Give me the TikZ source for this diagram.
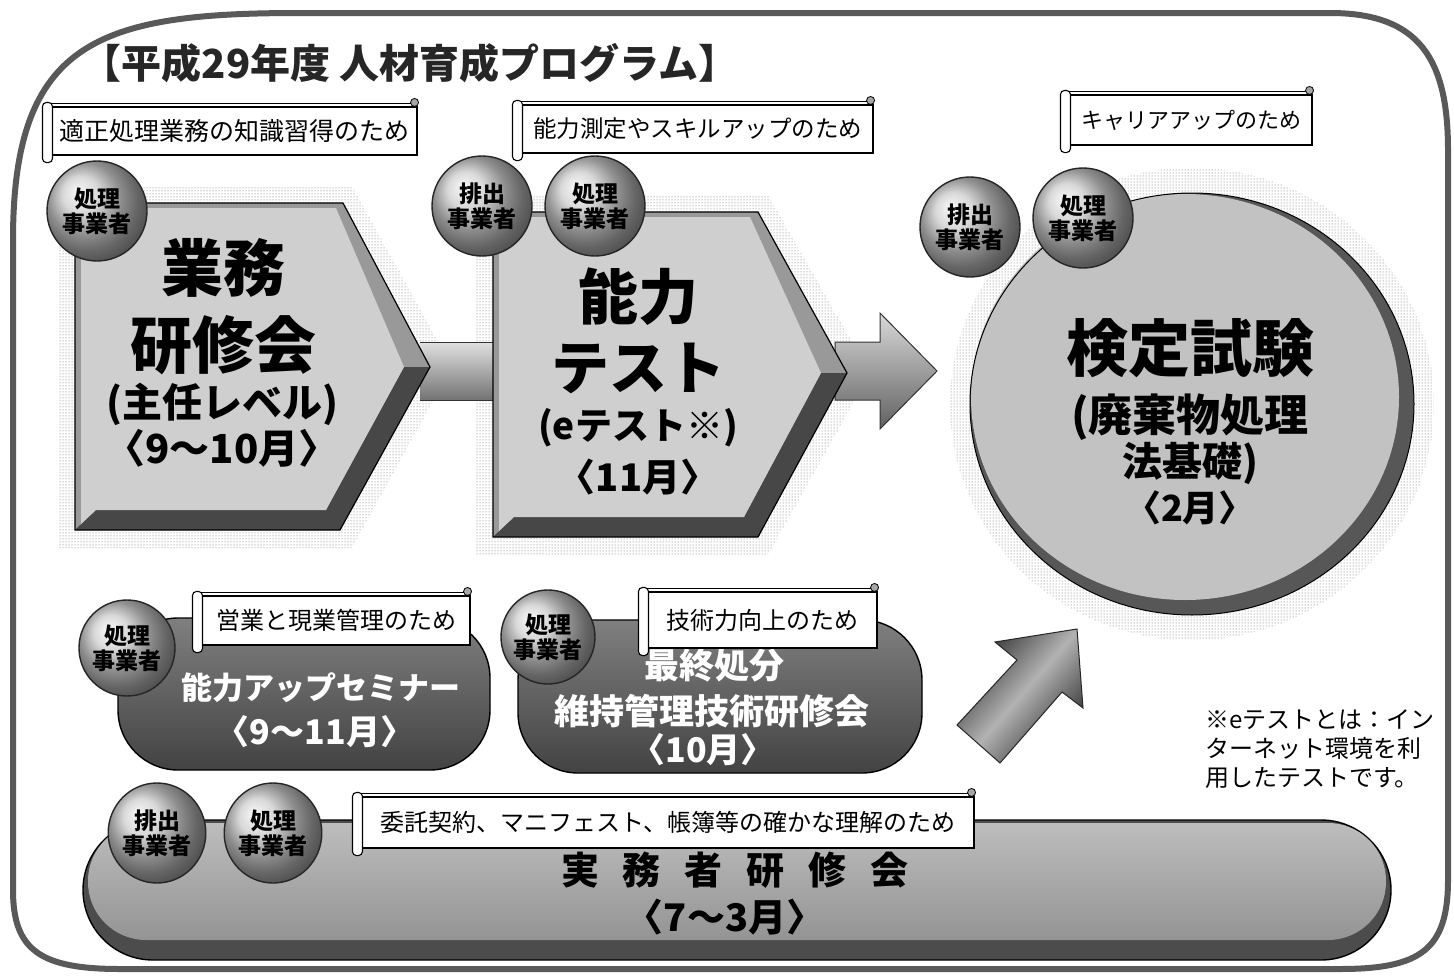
\documentclass[tikz,border=0pt]{standalone}
\usepackage{fontspec}
\setmainfont{Noto Sans CJK JP}
\usetikzlibrary{shapes.geometric,patterns}
\tikzset{
  fs/.style={font=\fontsize{#1}{#1}\selectfont},
  bfs/.style={font=\fontsize{#1}{#1}\selectfont\bfseries},
  badge/.style={circle, minimum size=100pt, inner sep=0pt, shading=ball, ball color=black!20,
    draw=black!85, line width=1.4pt, align=center, font=\fontsize{23}{25}\selectfont\bfseries},
  banner/.style={rectangle, draw=black, line width=1.1pt, fill=white, inner sep=0pt, font=\fontsize{25}{25}\selectfont},
  roll/.style={draw=black, line width=1.1pt, fill=white, rounded corners=4pt},
  curl/.style={draw=black, line width=0.8pt, fill=black!35},
  halo/.style={pattern=dots, pattern color=black!60},
  pill/.style={rectangle, draw=black, line width=1.4pt, rounded corners=60pt, top color=black!50, bottom color=black!74},
  wtext/.style={text=white, inner sep=0pt},
  btext/.style={text=black, inner sep=0pt},
  hexface/.style={fill=black!19},
  hexlow/.style={fill=black!72},
  hexout/.style={fill=black!40},
  hexline/.style={draw=black, line width=1.2pt},
}
\newcommand\scrollends[1]{%
  \draw[roll] ([xshift=-9pt,yshift=4pt]#1.north west) rectangle ([xshift=1pt,yshift=-7pt]#1.south west);
  \draw[line width=0.6pt] ([yshift=3pt]#1.north west) -- ([xshift=-6pt,yshift=3pt]#1.north east);
  \draw[curl] ([xshift=-3pt,yshift=4pt]#1.north east) circle (4pt);
}
\begin{document}
\begin{tikzpicture}[x=1pt,y=-1pt]
\useasboundingbox (0,0) rectangle (1454,977);
\fill[white] (0,0) rectangle (1454,977);

% outer frame
\draw[black!65, line width=6pt] (13,240) .. controls (13,40) and (100,13) .. (300,13) -- (1330,13)
  .. controls (1420,13) and (1448,60) .. (1448,150) -- (1448,880)
  .. controls (1448,950) and (1420,969) .. (1340,969) -- (120,969)
  .. controls (40,969) and (13,950) .. (13,890) -- cycle;

% title
\node[bfs=40, text=black!85, inner sep=0pt] (title) at (410,63) {【平成29年度 人材育成プログラム】};

% halos
\fill[halo] (58,186) -- (352,186) -- (452,367) -- (352,548) -- (58,548) -- cycle;
\fill[halo] (476,195) -- (768,195) -- (870,373) -- (768,555) -- (476,555) -- cycle;
\fill[halo] (1192,404) ellipse (242pt and 236pt);

% shaft between hexagons
\shade[top color=black!12, bottom color=black!55] (420,342) rectangle (496,400);
\draw[black!80, line width=1pt] (420,342) -- (496,342) (420,400) -- (496,400);

% arrow to the exam circle
\shade[top color=black!15, bottom color=black!62, draw=black!80, line width=1pt]
  (835,342) -- (880,342) -- (880,313) -- (937,371) -- (880,429) -- (880,400) -- (835,400) -- cycle;

% hexagon 1
\path[hexout] (75,203) -- (343,203) -- (430,367) -- (340,530) -- (75,530) -- cycle;
\path[hexlow] (430,367) -- (340,530) -- (75,530) -- (96,510) -- (326,510) -- (404,367) -- cycle;
\path[hexface] (81,208) -- (336,208) -- (404,367) -- (326,510) -- (96,510) -- (81,524) -- cycle;
\path[hexline] (75,203) -- (343,203) -- (430,367) -- (340,530) -- (75,530) -- cycle;

% hexagon 2
\path[hexout] (493,212) -- (758,212) -- (847,373) -- (758,537) -- (493,537) -- cycle;
\path[hexlow] (847,373) -- (758,537) -- (493,537) -- (514,517) -- (744,517) -- (821,373) -- cycle;
\path[hexface] (499,217) -- (750,217) -- (821,373) -- (744,517) -- (514,517) -- (499,531) -- cycle;
\path[hexline] (493,212) -- (758,212) -- (847,373) -- (758,537) -- (493,537) -- cycle;

% exam circle
\fill[black!66] (1192,404) ellipse (222pt and 211pt);
\fill[black!24] (1185,397) ellipse (214pt and 203pt);
\draw[black, line width=1pt] (1192,404) ellipse (222pt and 211pt);

% hexagon 1 text
\node[btext, bfs=62] (h1a) at (223,268) {業務};
\node[btext, bfs=62] (h1b) at (223,345) {研修会};
\node[btext, bfs=40] (h1c) at (222,404) {(主任レベル)};
\node[btext, bfs=40] (h1d) at (222,448) {〈9～10月〉};

% hexagon 2 text
\node[btext, bfs=60] (h2a) at (638,297) {能力};
\node[btext, bfs=58] (h2b) at (638,368) {テスト};
\node[btext, bfs=37] (h2c) at (638,428) {(eテスト※)};
\node[btext, bfs=38] (h2d) at (638,477) {〈11月〉};

% circle text
\node[btext, bfs=62] (c1a) at (1190,348) {検定試験};
\node[btext, bfs=44] (c1b) at (1190,417) {(廃棄物処理};
\node[btext, bfs=40] (c1c) at (1190,463) {法基礎)};
\node[btext, bfs=36] (c1d) at (1190,508) {〈2月〉};

% diagonal arrow
\shade[top color=black!82, bottom color=black!82, middle color=black!30, shading angle=49,
  draw=black!85, line width=1pt]
  (957,725) -- (1017,660) -- (995,642) -- (1077,629) -- (1083,708) -- (1062,692) -- (1000,763) -- cycle;

% pills
\node[pill, minimum width=372pt, minimum height=152pt] (p1) at (304,694) {};
\node[pill, minimum width=404pt, minimum height=153pt] (p2) at (720,696.5) {};
\node[wtext, bfs=31] (p1a) at (321,688) {能力アップセミナー};
\node[wtext, bfs=34] (p1b) at (315,732) {〈9～11月〉};
\node[wtext, bfs=35] (p2a) at (714,665) {最終処分};
\node[wtext, bfs=35] (p2b) at (712,711) {維持管理技術研修会};
\node[wtext, bfs=34] (p2c) at (703,750) {〈10月〉};

% bottom bar
\node[rectangle, draw=black, line width=1.4pt, fill=black!70, rounded corners=70pt,
  minimum width=1308pt, minimum height=140pt] (bar) at (737,890) {};
\shade[top color=black!26, bottom color=black!42, rounded corners=58pt] (88,823) rectangle (1386,940);
\node[btext, bfs=38] (bara) at (735,870) {実\hspace{24pt}務\hspace{24pt}者\hspace{24pt}研\hspace{24pt}修\hspace{24pt}会};
\node[btext, bfs=38] (barb) at (725,917) {〈7～3月〉};

% badges
\node[badge] (k1) at (97,211) {処理\\事業者};
\node[badge] (k2) at (482,206) {排出\\事業者};
\node[badge] (k3) at (595,206) {処理\\事業者};
\node[badge] (k4) at (970,227) {排出\\事業者};
\node[badge] (k5) at (1083,218) {処理\\事業者};
\node[badge, minimum size=96pt] (k6) at (127,648) {処理\\事業者};
\node[badge, minimum size=94pt] (k7) at (548,637) {処理\\事業者};
\node[badge, ellipse, minimum width=90pt, minimum height=100pt] (k8) at (157,833) {排出\\事業者};
\node[badge, ellipse, minimum width=90pt, minimum height=100pt] (k9) at (273,833) {処理\\事業者};

% banners
\node[banner, minimum width=365pt, minimum height=48pt, fs=25] (b1) at (234.5,131) {適正処理業務の知識習得のため};
\node[banner, minimum width=351pt, minimum height=48pt, fs=23.5] (b2) at (697.5,129) {能力測定やスキルアップのため};
\node[banner, minimum width=242pt, minimum height=50pt, fs=22] (b3) at (1191,120) {キャリアアップのため};
\node[banner, minimum width=268pt, minimum height=49pt, fs=24] (b4) at (336,620.5) {営業と現業管理のため};
\node[banner, minimum width=229pt, minimum height=56pt, fs=24] (b5) at (762.5,620) {技術力向上のため};
\node[banner, minimum width=612pt, minimum height=51pt, fs=24] (b6) at (668,822.5) {委託契約、マニフェスト、帳簿等の確かな理解のため};
\scrollends{b1}
\scrollends{b2}
\scrollends{b3}
\scrollends{b4}
\scrollends{b5}
\scrollends{b6}

% note
\node[anchor=west, inner sep=0pt, align=left, font=\fontsize{24}{29}\selectfont] (note) at (1205,749)
  {※eテストとは：イン\\ターネット環境を利\\用したテストです。};
\end{tikzpicture}
\end{document}
